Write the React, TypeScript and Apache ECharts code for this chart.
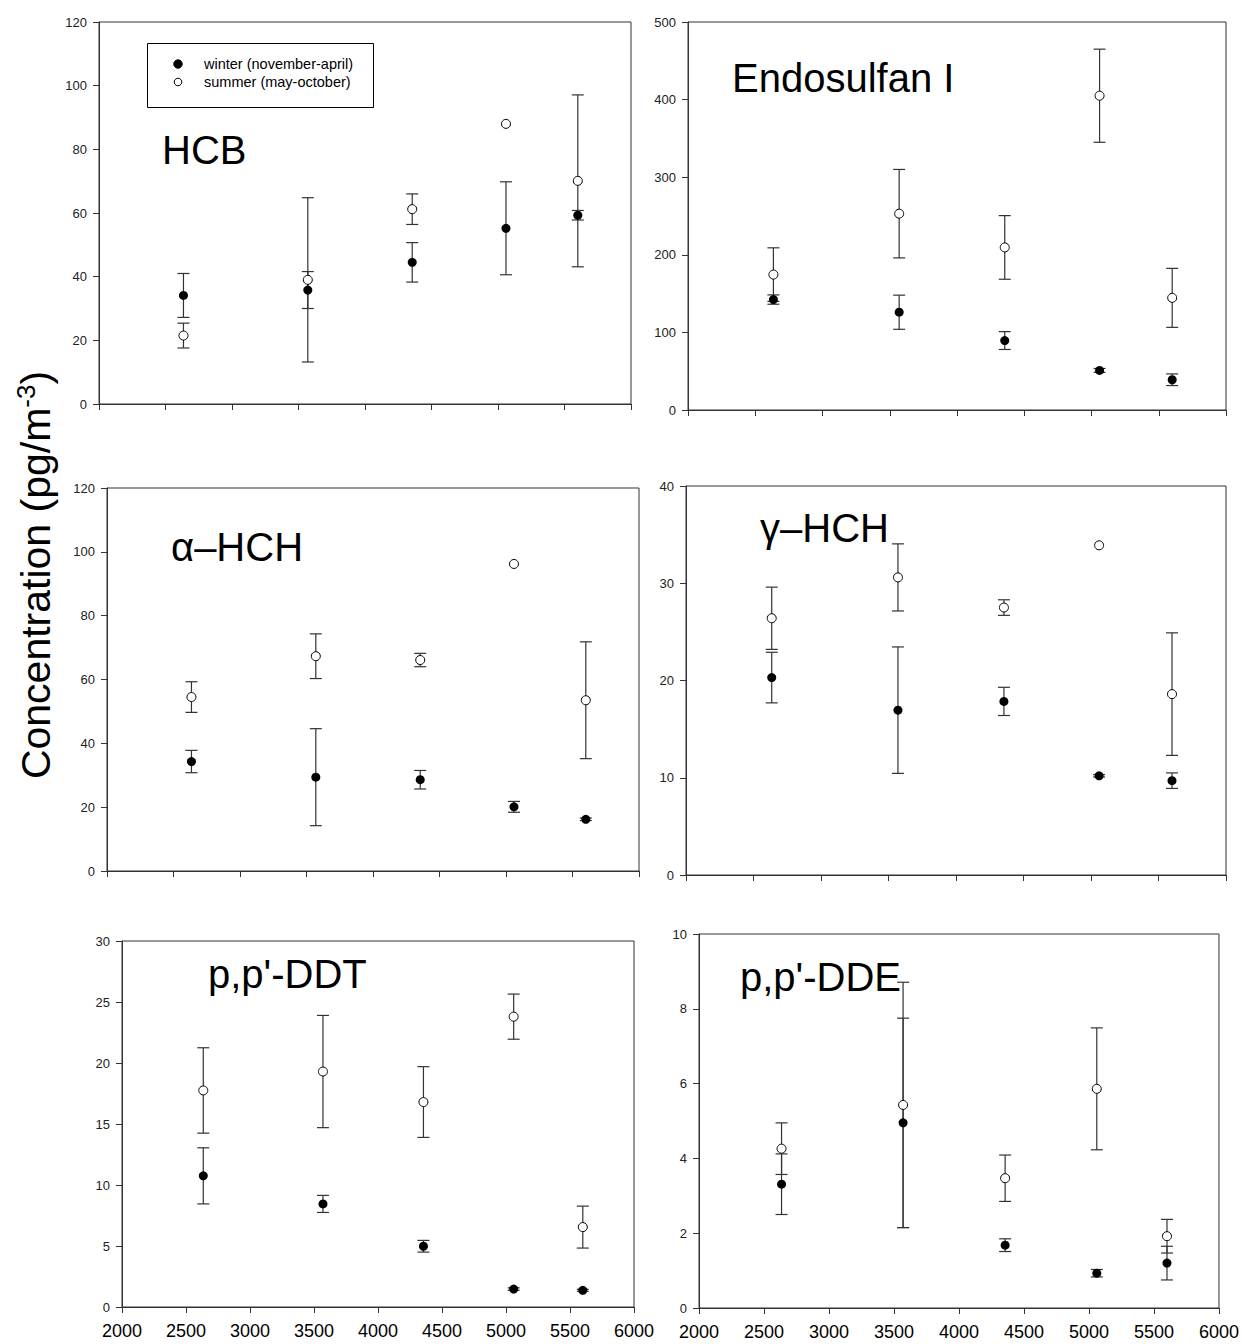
import React, { useEffect, useRef } from "react";
import * as echarts from "echarts";

// ---- data ----
const altitude = [2635, 3570, 4355, 5060, 5600];
const panelNames = ["HCB", "Endosulfan I", "α–HCH", "γ–HCH", "p,p'-DDT", "p,p'-DDE"];
const yMax = [120, 500, 120, 40, 30, 10];
const yStep = [20, 100, 20, 10, 5, 2];
const legendNames = ["winter (november-april)", "summer (may-october)"];

const hcbWinter = [34.1, 35.8, 44.5, 55.2, 59.3];
const hcbWinterErr = [6.9, 5.8, 6.2, 14.6, 1.5];
const hcbSummer = [21.5, 39.0, 61.2, 88.0, 70.1];
const hcbSummerErr = [3.9, 25.8, 4.8, 0, 27.0];

const endoWinter = [142.3, 126.0, 89.5, 51.0, 39.0];
const endoWinterErr = [6.0, 22.0, 11.5, 2.5, 7.5];
const endoSummer = [174.5, 253.0, 209.5, 405.0, 144.5];
const endoSummerErr = [34.5, 57.0, 41.0, 60.0, 38.0];

const aHchWinter = [34.3, 29.4, 28.6, 20.1, 16.2];
const aHchWinterErr = [3.5, 15.2, 2.9, 1.7, 0.4];
const aHchSummer = [54.5, 67.3, 66.1, 96.2, 53.5];
const aHchSummerErr = [4.8, 7.0, 2.1, 0, 18.3];

const gHchWinter = [20.3, 16.95, 17.85, 10.2, 9.7];
const gHchWinterErr = [2.6, 6.5, 1.45, 0.12, 0.8];
const gHchSummer = [26.4, 30.6, 27.5, 33.9, 18.6];
const gHchSummerErr = [3.2, 3.45, 0.8, 0, 6.3];

const ddtWinter = [10.75, 8.45, 4.98, 1.47, 1.37];
const ddtWinterErr = [2.3, 0.7, 0.48, 0.1, 0.08];
const ddtSummer = [17.75, 19.3, 16.8, 23.8, 6.55];
const ddtSummerErr = [3.5, 4.6, 2.9, 1.85, 1.72];

const ddeWinter = [3.31, 4.95, 1.68, 0.93, 1.2];
const ddeWinterErr = [0.81, 2.8, 0.17, 0.1, 0.45];
const ddeSummer = [4.26, 5.43, 3.47, 5.86, 1.92];
const ddeSummerErr = [0.69, 3.28, 0.62, 1.63, 0.45];

const winterSets = [hcbWinter, endoWinter, aHchWinter, gHchWinter, ddtWinter, ddeWinter];
const winterErrSets = [hcbWinterErr, endoWinterErr, aHchWinterErr, gHchWinterErr, ddtWinterErr, ddeWinterErr];
const summerSets = [hcbSummer, endoSummer, aHchSummer, gHchSummer, ddtSummer, ddeSummer];
const summerErrSets = [hcbSummerErr, endoSummerErr, aHchSummerErr, gHchSummerErr, ddtSummerErr, ddeSummerErr];

// ---- layout ----
const FONT = "'Liberation Sans', Arial, sans-serif";
const grids = [
  { left: 99, top: 22, width: 532, height: 382 },
  { left: 688, top: 22, width: 538, height: 388 },
  { left: 107, top: 488, width: 532, height: 383 },
  { left: 686, top: 486, width: 540, height: 389 },
  { left: 122, top: 941, width: 512, height: 366 },
  { left: 699, top: 934, width: 521, height: 374 },
];
const titlePos = [
  [162, 150],
  [732, 78],
  [171, 547],
  [760, 528],
  [208, 974],
  [740, 977],
];

const renderErr = (params: any, api: any) => {
  const x = api.value(0);
  const lo = api.value(1);
  const hi = api.value(2);
  const t = api.coord([x, hi]);
  const b = api.coord([x, lo]);
  const cap = 6;
  const style = { stroke: "#333", lineWidth: 1.2 };
  return {
    type: "group",
    children: [
      { type: "line", shape: { x1: t[0], y1: t[1], x2: b[0], y2: b[1] }, style },
      { type: "line", shape: { x1: t[0] - cap, y1: t[1], x2: t[0] + cap, y2: t[1] }, style },
      { type: "line", shape: { x1: b[0] - cap, y1: b[1], x2: b[0] + cap, y2: b[1] }, style },
    ],
  };
};

function errData(vals: number[], errs: number[]) {
  const out: number[][] = [];
  altitude.forEach((x, i) => {
    if (errs[i] > 0) out.push([x, vals[i] - errs[i], vals[i] + errs[i]]);
  });
  return out;
}

function buildOption() {
  const xAxis: any[] = [];
  const yAxis: any[] = [];
  const series: any[] = [];
  const graphic: any[] = [];

  grids.forEach((g, i) => {
    const bottomRow = i >= 4;
    xAxis.push({
      gridIndex: i,
      type: "value",
      min: 2000,
      max: 6000,
      interval: 500,
      splitLine: { show: false },
      axisLine: { show: true, lineStyle: { color: "#333", width: 1 } },
      axisTick: { show: true, inside: false, length: 6, lineStyle: { color: "#333" } },
      axisLabel: {
        show: bottomRow,
        fontSize: 18,
        fontFamily: FONT,
        color: "#000",
        margin: 15,
        showMinLabel: true,
        showMaxLabel: true,
        formatter: (v: number) => String(v),
      },
    });
    yAxis.push({
      gridIndex: i,
      type: "value",
      min: 0,
      max: yMax[i],
      interval: yStep[i],
      splitLine: { show: false },
      axisLine: { show: true, lineStyle: { color: "#333", width: 1 } },
      axisTick: { show: true, inside: false, length: 6, lineStyle: { color: "#333" } },
      axisLabel: {
        fontSize: 13,
        fontFamily: FONT,
        color: "#222",
        margin: 12,
        formatter: (v: number) => String(v),
      },
    });

    series.push({
      type: "custom",
      xAxisIndex: i,
      yAxisIndex: i,
      renderItem: renderErr,
      encode: { x: 0, y: [1, 2] },
      data: errData(winterSets[i], winterErrSets[i]),
      z: 1,
      silent: true,
    });
    series.push({
      type: "custom",
      xAxisIndex: i,
      yAxisIndex: i,
      renderItem: renderErr,
      encode: { x: 0, y: [1, 2] },
      data: errData(summerSets[i], summerErrSets[i]),
      z: 1,
      silent: true,
    });
    series.push({
      type: "scatter",
      name: legendNames[0],
      xAxisIndex: i,
      yAxisIndex: i,
      symbol: "circle",
      symbolSize: 9,
      itemStyle: { color: "#000", opacity: 1 },
      data: altitude.map((x, k) => [x, winterSets[i][k]]),
      z: 3,
    });
    series.push({
      type: "scatter",
      name: legendNames[1],
      xAxisIndex: i,
      yAxisIndex: i,
      symbol: "circle",
      symbolSize: 9,
      itemStyle: { color: "#fff", borderColor: "#000", borderWidth: 1, opacity: 1 },
      data: altitude.map((x, k) => [x, summerSets[i][k]]),
      z: 4,
    });

    graphic.push({
      type: "text",
      x: titlePos[i][0],
      y: titlePos[i][1],
      style: {
        text: panelNames[i],
        fontSize: 40,
        fontFamily: FONT,
        fill: "#000",
        align: "left",
        verticalAlign: "middle",
      },
      z: 10,
    });
  });

  // legend box in HCB panel
  graphic.push({
    type: "rect",
    shape: { x: 147.5, y: 43.5, width: 226, height: 64 },
    style: { fill: "#fff", stroke: "#000", lineWidth: 1 },
    z: 5,
  });
  graphic.push({
    type: "circle",
    shape: { cx: 178, cy: 64, r: 4.2 },
    style: { fill: "#000", stroke: "#000", lineWidth: 1 },
    z: 6,
  });
  graphic.push({
    type: "circle",
    shape: { cx: 178, cy: 82, r: 3.8 },
    style: { fill: "#fff", stroke: "#000", lineWidth: 1 },
    z: 6,
  });
  graphic.push({
    type: "text",
    x: 204,
    y: 64,
    style: { text: legendNames[0], fontSize: 14.5, fontFamily: FONT, fill: "#000", verticalAlign: "middle" },
    z: 6,
  });
  graphic.push({
    type: "text",
    x: 204,
    y: 82,
    style: { text: legendNames[1], fontSize: 14.5, fontFamily: FONT, fill: "#000", verticalAlign: "middle" },
    z: 6,
  });

  // shared y-axis title
  graphic.push({
    type: "text",
    x: 36,
    y: 575,
    rotation: Math.PI / 2,
    style: {
      text: "{a|Concentration (pg/m}{b|-3}{a|)}",
      align: "center",
      verticalAlign: "middle",
      rich: {
        a: { fontSize: 41, fontFamily: FONT, fill: "#000", lineHeight: 46 },
        b: { fontSize: 26, fontFamily: FONT, fill: "#000", lineHeight: 20, verticalAlign: "top" },
      },
    },
    z: 10,
  });

  return {
    animation: false,
    backgroundColor: "#fff",
    textStyle: { fontFamily: FONT },
    grid: grids.map((g) => ({ ...g, show: true, borderColor: "#333", borderWidth: 1, containLabel: false })),
    xAxis,
    yAxis,
    series,
    graphic,
  };
}

export default function App() {
  const ref = useRef<HTMLDivElement>(null);
  useEffect(() => {
    if (!ref.current) return;
    const chart = echarts.init(ref.current, undefined, { renderer: "svg" });
    chart.setOption(buildOption() as any);
    return () => chart.dispose();
  }, []);
  return (
    <div
      ref={ref}
      style={{ position: "absolute", left: 0, top: 0, width: 1242, height: 1344, background: "#fff" }}
    />
  );
}
